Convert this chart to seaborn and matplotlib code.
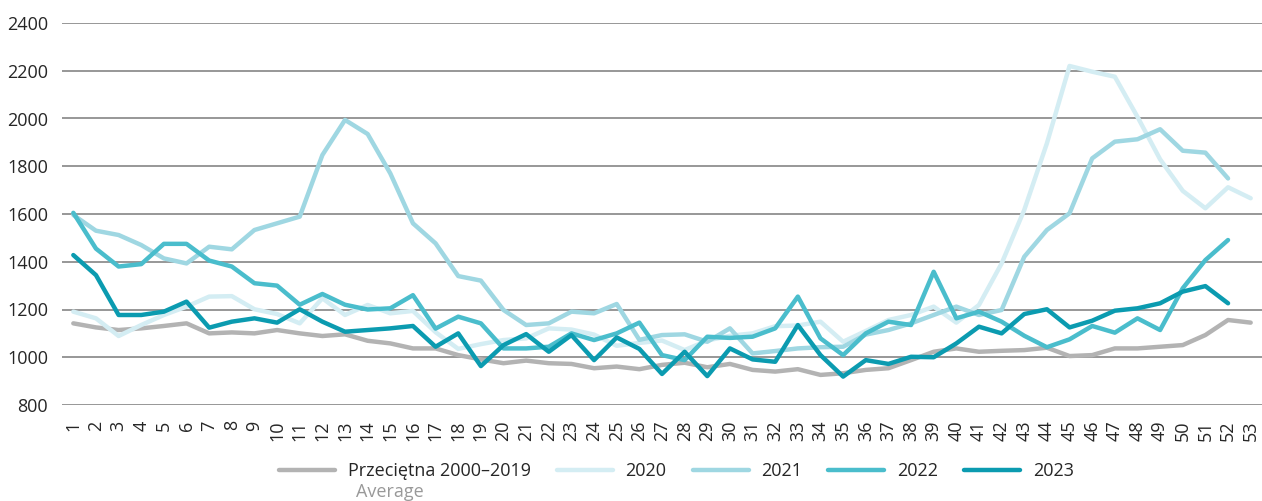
import numpy as np
import pandas as pd
import seaborn as sns
import matplotlib.pyplot as plt

# weekly values
weeks = list(range(1, 54))

avg_2000_2019 = [1142, 1125, 1114, 1121, 1131, 1142, 1100, 1104, 1100, 1114,
                 1100, 1089, 1096, 1069, 1058, 1037, 1037, 1009, 991, 975,
                 986, 975, 972, 954, 961, 950, 968, 977, 958, 972,
                 947, 940, 950, 926, 933, 947, 954, 988, 1023, 1037,
                 1023, 1027, 1030, 1040, 1005, 1009, 1037, 1037, 1044, 1051,
                 1093, 1156, 1145]

y2020 = [1191, 1163, 1089, 1135, 1177, 1212, 1254, 1256, 1201, 1181,
         1142, 1247, 1177, 1219, 1184, 1194, 1105, 1035, 1055, 1072,
         1079, 1121, 1116, 1095, 1048, 1060, 1070, 1030, 1070, 1090,
         1100, 1130, 1133, 1149, 1065, 1110, 1156, 1177, 1212, 1145,
         1219, 1393, 1617, 1896, 2220, 2196, 2175, 2007, 1829, 1697,
         1624, 1712, 1666]

y2021 = [1596, 1530, 1512, 1470, 1414, 1393, 1463, 1452, 1533, 1561,
         1589, 1847, 1994, 1935, 1770, 1561, 1477, 1340, 1321, 1198,
         1135, 1142, 1191, 1184, 1223, 1073, 1093, 1096, 1065, 1121,
         1016, 1026, 1037, 1042, 1044, 1095, 1114, 1142, 1177, 1212,
         1177, 1198, 1421, 1533, 1603, 1833, 1903, 1913, 1955, 1865,
         1857, 1749, np.nan]

y2022 = [1605, 1455, 1380, 1390, 1475, 1475, 1405, 1380, 1310, 1300,
         1220, 1265, 1220, 1200, 1205, 1260, 1120, 1170, 1142, 1037,
         1037, 1044, 1100, 1072, 1100, 1145, 1009, 988, 1086, 1081,
         1086, 1121, 1254, 1079, 1009, 1100, 1149, 1135, 1358, 1163,
         1191, 1149, 1090, 1042, 1075, 1131, 1103, 1163, 1114, 1289,
         1407, 1491, np.nan]

y2023 = [1428, 1344, 1177, 1177, 1191, 1233, 1124, 1149, 1163, 1145,
         1201, 1149, 1107, 1114, 1121, 1131, 1044, 1100, 963, 1051,
         1097, 1023, 1093, 988, 1083, 1035, 930, 1023, 921, 1037,
         991, 981, 1135, 1009, 919, 988, 972, 1002, 1000, 1058,
         1128, 1100, 1181, 1201, 1125, 1153, 1195, 1205, 1226, 1275,
         1298, 1226, np.nan]

labels = ['Przeciętna 2000–2019', '2020', '2021', '2022', '2023']
colors = ['#b3b3b3', '#d4edf3', '#9fd7e2', '#4abdcc', '#0b9bb0']

df = pd.concat([
    pd.DataFrame({'week': weeks, 'value': vals, 'series': lab})
    for lab, vals in zip(labels, [avg_2000_2019, y2020, y2021, y2022, y2023])
]).dropna()

sns.set_style('white')
plt.rcParams['font.family'] = ['Liberation Sans Narrow', 'Open Sans', 'DejaVu Sans']

fig, ax = plt.subplots(figsize=(12.62, 5.01), dpi=100)
fig.subplots_adjust(left=62 / 1262, right=1.0, top=1 - 23 / 501, bottom=1 - 405 / 501)

sns.lineplot(data=df, x='week', y='value', hue='series', hue_order=labels,
             palette=dict(zip(labels, colors)), linewidth=3.2, ax=ax)

ax.set_ylim(800, 2400)
ax.set_yticks(range(800, 2401, 200))
ax.set_xlim(0.5, 53.5)
ax.set_xticks(weeks)
ax.set_xticklabels(weeks, rotation=90)
ax.set_xlabel('')
ax.set_ylabel('')
ax.grid(axis='y', color='#7a7a7a', linewidth=1.1)
ax.set_axisbelow(True)
sns.despine(ax=ax, left=True, bottom=True)
ax.tick_params(axis='both', length=0, labelsize=13)
ax.tick_params(axis='y', pad=10)
ax.tick_params(axis='x', pad=11)

handles, labs = ax.get_legend_handles_labels()
ax.get_legend().remove()
fig.legend(handles, labs, loc='center', bbox_to_anchor=(0.536, 0.06), ncol=5,
           frameon=False, fontsize=13, handlelength=3.1, handletextpad=0.7,
           columnspacing=1.45)
fig.text(356 / 1262, 1 - 492 / 501, 'Average', color='#999999', fontsize=13,
         ha='left', va='center')

fig.savefig('out.png', dpi=100)
